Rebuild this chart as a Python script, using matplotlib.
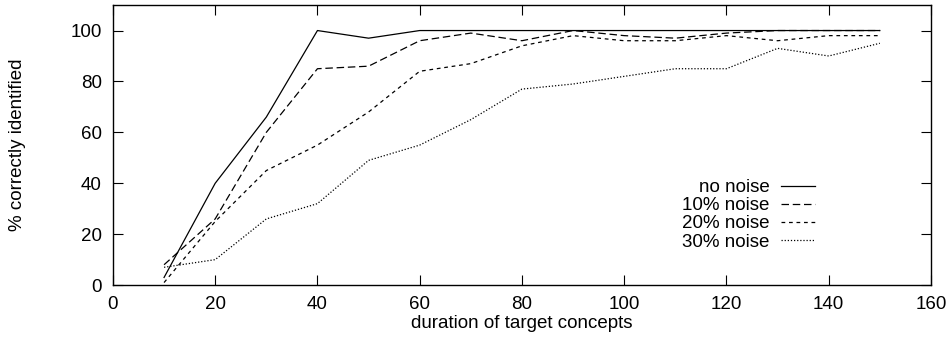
import matplotlib
matplotlib.use('Agg')
import matplotlib.pyplot as plt

plt.rcParams['font.family'] = ['Liberation Sans', 'DejaVu Sans']

# duration of target concepts
durations = [10, 20, 30, 40, 50, 60, 70, 80, 90, 100, 110, 120, 130, 140, 150]

no_noise = [3, 40, 66, 100, 97, 100, 100, 100, 100, 100, 100, 100, 100, 100, 100]
noise_10 = [8, 26, 60, 85, 86, 96, 99, 96, 100, 98, 97, 99, 100, 100, 100]
noise_20 = [1, 25, 45, 55, 68, 84, 87, 94, 98, 96, 96, 98, 96, 98, 98]
noise_30 = [7, 10, 26, 32, 49, 55, 65, 77, 79, 82, 85, 85, 93, 90, 95]

fs = 13.5

fig = plt.figure(figsize=(9.49, 3.39), dpi=100)
ax = fig.add_axes([0.119, 0.159, 0.862, 0.826])

lw = 0.9
ax.plot(durations, no_noise, color='black', lw=lw, label='no noise')
ax.plot(durations, noise_10, color='black', lw=lw, dashes=(6, 3), label='10% noise')
ax.plot(durations, noise_20, color='black', lw=lw, dashes=(3, 3), label='20% noise')
ax.plot(durations, noise_30, color='black', lw=lw, dashes=(1, 1.5), label='30% noise')

ax.set_xlim(0, 160)
ax.set_ylim(0, 110)
ax.set_xticks(range(0, 161, 20))
ax.set_yticks(range(0, 101, 20))
ax.tick_params(direction='in', length=7, width=0.8, top=True, right=True,
               labelsize=fs)
ax.tick_params(axis='x', pad=8)
ax.tick_params(axis='y', pad=8)
for s in ax.spines.values():
    s.set_linewidth(1.0)

ax.set_xlabel('duration of target concepts', fontsize=fs, labelpad=1)
ax.set_ylabel('% correctly identified', fontsize=fs, labelpad=32)

leg = ax.legend(loc='upper right', bbox_to_anchor=(0.867, 0.405), frameon=False,
                markerfirst=False, fontsize=fs, handlelength=1.8,
                handletextpad=0.6, labelspacing=0.05, borderaxespad=0)
for t in leg.get_texts():
    t.set_ha('right')

fig.savefig('out.png', dpi=100)
